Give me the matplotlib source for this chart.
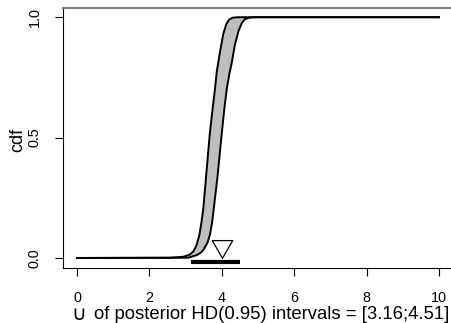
import matplotlib
matplotlib.use("Agg")
import matplotlib.pyplot as plt

plt.rcParams['font.family'] = ['Liberation Sans', 'DejaVu Sans']

# lower / upper cdf curves
lower_x = [0.0, 2.57, 2.94, 3.10, 3.21, 3.30, 3.38, 3.44, 3.49, 3.56, 3.67, 3.75, 3.81, 3.86,
           3.95, 4.04, 4.12, 4.20, 4.30, 4.45, 10.0]
lower_y = [0.0, 0.001, 0.005, 0.013, 0.026, 0.052, 0.095, 0.150, 0.207, 0.328, 0.519, 0.625,
           0.700, 0.773, 0.856, 0.930, 0.970, 0.990, 0.998, 1.0, 1.0]
upper_x = [0.0, 3.07, 3.31, 3.42, 3.49, 3.60, 3.67, 3.73, 3.78, 3.88, 4.00, 4.07, 4.14, 4.21,
           4.28, 4.36, 4.46, 4.55, 4.64, 4.75, 4.90, 10.0]
upper_y = [0.0, 0.001, 0.012, 0.022, 0.033, 0.062, 0.095, 0.145, 0.207, 0.336, 0.519, 0.620,
           0.705, 0.765, 0.815, 0.884, 0.942, 0.975, 0.992, 0.998, 1.0, 1.0]

hd_lo, hd_hi = 3.16, 4.51
marker_x, marker_y = 4.0, 0.05
bar_y = -0.017

xticks = [0, 2, 4, 6, 8, 10]
yticks = [0.0, 0.5, 1.0]

fig = plt.figure(figsize=(4.52, 3.23), dpi=100)
ax = fig.add_axes([0.1383, 0.1715, 0.865, 0.805])

# grey band between the two curves
ax.fill(lower_x + upper_x[::-1], lower_y + upper_y[::-1], color='#bebebe', lw=0)
ax.plot(lower_x, lower_y, color='black', lw=1.4, solid_joinstyle='round')
ax.plot(upper_x, upper_y, color='black', lw=1.4, solid_joinstyle='round')

# HD interval bar and point marker
ax.plot([hd_lo, hd_hi], [bar_y, bar_y], color='black', lw=3, solid_capstyle='butt')
tri = [(-1, 0.5774), (1, 0.5774), (0, -1.1547), (-1, 0.5774)]
ax.plot([marker_x], [marker_y], marker=tri, ms=17, mfc='white', mec='black', mew=0.9, ls='none')

ax.set_xlim(-0.4, 10.4)
ax.set_ylim(-0.04, 1.04)
ax.set_xticks(xticks)
ax.set_xticklabels([str(t) for t in xticks])
ax.set_yticks(yticks)
ax.set_yticklabels(['%.1f' % t for t in yticks], rotation=90, va='center')
ax.tick_params(axis='x', length=6, width=0.8, pad=10.5, labelsize=10.4)
ax.tick_params(axis='y', length=6, width=0.8, pad=9, labelsize=10.4)

ax.spines['top'].set_color('#808080')
ax.spines['top'].set_linewidth(1.5)
ax.spines['right'].set_visible(False)
ax.spines['left'].set_linewidth(0.8)
ax.spines['bottom'].set_linewidth(0.8)

fig.text(71 / 452, 1 - 320 / 323, '\u222a', family='DejaVu Sans',
         ha='left', va='baseline', fontsize=14.5)
fig.text(94 / 452, 1 - 319 / 323, 'of posterior HD(0.95) intervals = [3.16;4.51]',
         ha='left', va='baseline', fontsize=13.3)
fig.text(18 / 452, 1 - 140 / 323, 'cdf', rotation=90, ha='center', va='center', fontsize=13)

fig.savefig('out.png', dpi=100)
